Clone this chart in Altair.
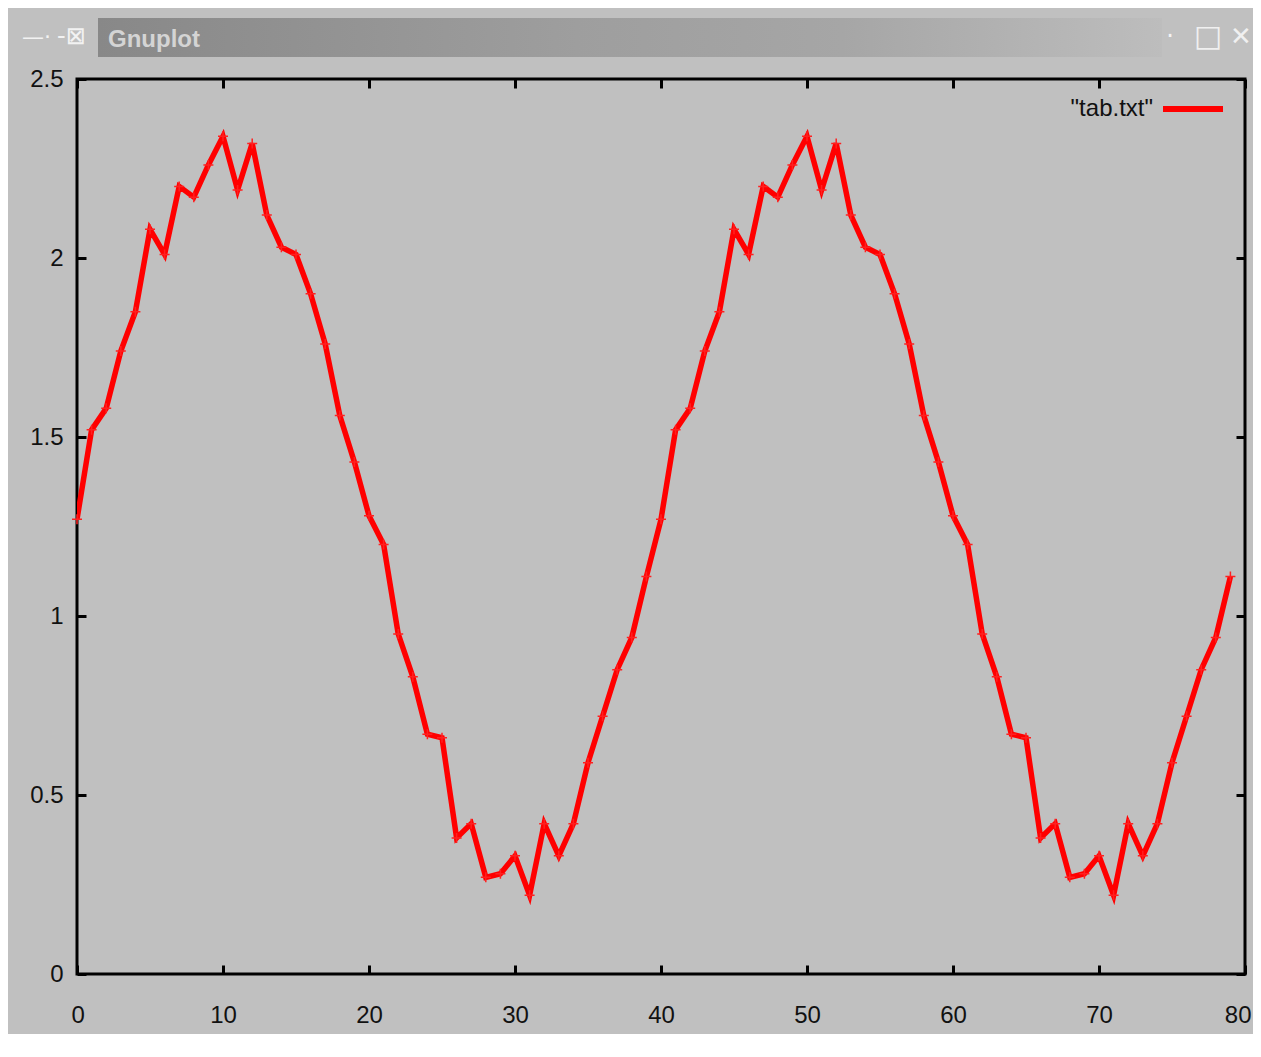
import altair as alt
import pandas as pd

# ---- data ----
x_vals = list(range(80))
y_vals = [
    1.27, 1.52, 1.58, 1.74, 1.85, 2.08, 2.01, 2.20, 2.17, 2.26,
    2.34, 2.19, 2.32, 2.12, 2.03, 2.01, 1.90, 1.76, 1.56, 1.43,
    1.28, 1.20, 0.95, 0.83, 0.67, 0.66, 0.38, 0.42, 0.27, 0.28,
    0.33, 0.22, 0.42, 0.33, 0.42, 0.59, 0.72, 0.85, 0.94, 1.11,
    1.27, 1.52, 1.58, 1.74, 1.85, 2.08, 2.01, 2.20, 2.17, 2.26,
    2.34, 2.19, 2.32, 2.12, 2.03, 2.01, 1.90, 1.76, 1.56, 1.43,
    1.28, 1.20, 0.95, 0.83, 0.67, 0.66, 0.38, 0.42, 0.27, 0.28,
    0.33, 0.22, 0.42, 0.33, 0.42, 0.59, 0.72, 0.85, 0.94, 1.11,
]
series_name = '"tab.txt"'
x_ticks = [0, 10, 20, 30, 40, 50, 60, 70, 80]
y_ticks = [0, 0.5, 1, 1.5, 2, 2.5]
window_title = "Gnuplot"

df = pd.DataFrame({"x": x_vals, "y": y_vals, "series": [series_name] * len(x_vals)})

FONT = "Liberation Sans Narrow, Liberation Sans, Arial"
W, H = 1168, 895
inward = alt.ExprRef(expr="-9")

x_scale = alt.Scale(domain=[0, 80], nice=False, zero=False)
y_scale = alt.Scale(domain=[0, 2.5], nice=False, zero=False)

ax_common = dict(grid=False, domain=False, tickColor="black", tickWidth=3,
                 tickSize=inward, title=None, labelFont=FONT, labelFontSize=24,
                 labelColor="#111111")

x_bottom = alt.Axis(orient="bottom", values=x_ticks, format="d", labelPadding=38,
                    labelFlush=True, labelFlushOffset=6, **ax_common)
y_left = alt.Axis(orient="left", values=y_ticks, format="~g", labelPadding=23, **ax_common)
x_top = alt.Axis(orient="top", values=x_ticks, labels=False, **ax_common)
y_right = alt.Axis(orient="right", values=y_ticks, labels=False, **ax_common)

base = alt.Chart(df)

line = base.mark_line(strokeWidth=5.5, clip=True).encode(
    x=alt.X("x:Q", scale=x_scale, axis=x_bottom),
    y=alt.Y("y:Q", scale=y_scale, axis=y_left),
    color=alt.Color("series:N",
                    scale=alt.Scale(domain=[series_name], range=["#ff0000"]),
                    legend=alt.Legend(orient="none", legendX=1083, legendY=-3,
                                      title=None, symbolType="stroke",
                                      symbolSize=3600, symbolStrokeWidth=6,
                                      labelFont=FONT, labelFontSize=24,
                                      labelColor="#111111", labelAlign="right",
                                      labelOffset=alt.ExprRef(expr="-73"), padding=0)),
)

points = base.mark_point(shape="M-1,0L1,0M0,-1L0,1", filled=False, strokeWidth=1.5,
                         size=100, color="#ff2020", opacity=1).encode(
    x=alt.X("x:Q", scale=x_scale, axis=None),
    y=alt.Y("y:Q", scale=y_scale, axis=None),
)

mirror = base.mark_line(strokeOpacity=0).encode(
    x=alt.X("x:Q", scale=x_scale, axis=x_top),
    y=alt.Y("y:Q", scale=y_scale, axis=y_right),
)

# window chrome (title bar)
one = alt.Data(values=[{}])
bar = alt.Chart(one).mark_rect(
    fill=alt.Gradient(gradient="linear",
                      stops=[alt.GradientStop(color="#888888", offset=0),
                             alt.GradientStop(color="#9e9e9e", offset=0.45),
                             alt.GradientStop(color="#a6a6a6", offset=0.7),
                             alt.GradientStop(color="#bdbdbd", offset=1)],
                      x1=0, x2=1, y1=0, y2=0)
).encode(x=alt.value(21), x2=alt.value(1085), y=alt.value(-61), y2=alt.value(-22))

title_txt = alt.Chart(one).mark_text(text=window_title, font="Liberation Sans", fontSize=24,
                                     fontWeight="bold", color="#d4d4d4", align="left",
                                     baseline="alphabetic").encode(
    x=alt.value(31), y=alt.value(-32))

icon_min = alt.Chart(one).mark_text(text="—·", font="DejaVu Sans", fontSize=22,
                                    color="#f2f2f2", align="left",
                                    baseline="middle").encode(
    x=alt.value(-55), y=alt.value(-42))
icon_pin = alt.Chart(one).mark_text(text="-⊠", font="DejaVu Sans", fontSize=24,
                                    color="#f2f2f2", align="left",
                                    baseline="middle").encode(
    x=alt.value(-20), y=alt.value(-42))
icon_dot = alt.Chart(one).mark_text(text="·", font="DejaVu Sans", fontSize=24,
                                    color="#f4f4f4", align="center",
                                    baseline="middle").encode(
    x=alt.value(1093), y=alt.value(-42))
icon_box = alt.Chart(one).mark_text(text="□", font="DejaVu Sans", fontSize=30,
                                    color="#f0f0f0", align="center",
                                    baseline="middle").encode(
    x=alt.value(1131), y=alt.value(-42))
icon_x = alt.Chart(one).mark_text(text="✕", font="DejaVu Sans", fontSize=26,
                                  color="#f0f0f0", align="center",
                                  baseline="middle").encode(
    x=alt.value(1164), y=alt.value(-42))

chart = alt.layer(bar, title_txt, icon_min, icon_pin, icon_dot, icon_box, icon_x,
                  line, points, mirror).resolve_axis(
    x="independent", y="independent"
).properties(
    width=W, height=H,
    autosize=alt.AutoSizeParams(type="none"),
    padding={"left": 69, "top": 71, "right": 8, "bottom": 60},
).configure(background="#c0c0c0").configure_view(stroke="black", strokeWidth=3, fill="#c0c0c0")

chart.save("out.html", embed_options={"renderer": "svg", "actions": False})
